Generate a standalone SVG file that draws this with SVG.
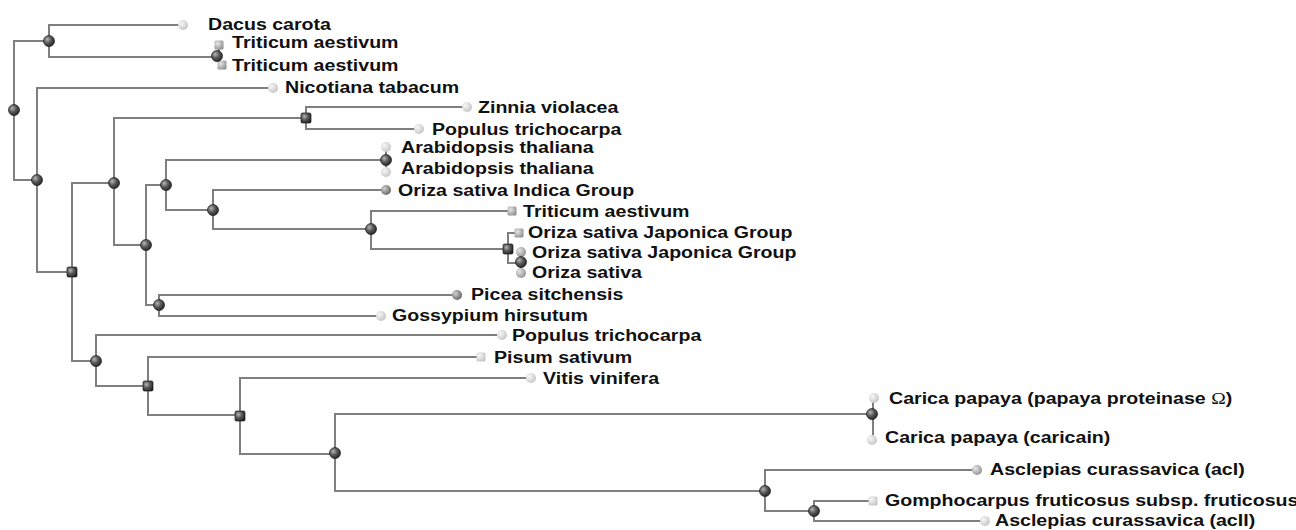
<svg xmlns="http://www.w3.org/2000/svg" xmlns:xlink="http://www.w3.org/1999/xlink" width="1296" height="530" viewBox="0 0 1296 530">
<style>
.bg{fill:#ffffff}
.conn path{fill:none;stroke:#7f7f7f;stroke-width:2;stroke-linecap:square}
.lbl{font-family:"Liberation Sans",Arial,Helvetica,sans-serif;font-weight:bold;font-size:17px;fill:#111111}
.om{font-family:"Liberation Serif","Times New Roman",serif;font-weight:normal}
</style>
<defs>
<radialGradient id="gDark" cx="0.35" cy="0.35" r="0.75">
<stop offset="0" stop-color="#b5b5b5"/><stop offset="0.45" stop-color="#5a5a5a"/><stop offset="1" stop-color="#1e1e1e"/>
</radialGradient>
<radialGradient id="gMid" cx="0.35" cy="0.35" r="0.75">
<stop offset="0" stop-color="#e6e6e6"/><stop offset="1" stop-color="#8c8c8c"/>
</radialGradient>
<radialGradient id="gMdk" cx="0.35" cy="0.35" r="0.75">
<stop offset="0" stop-color="#cfcfcf"/><stop offset="1" stop-color="#5e5e5e"/>
</radialGradient>
<radialGradient id="gLight" cx="0.35" cy="0.35" r="0.75">
<stop offset="0" stop-color="#f7f7f7"/><stop offset="1" stop-color="#c2c2c2"/>
</radialGradient>
<g id="nd"><circle r="5.5" fill="url(#gDark)" stroke="#1a1a1a" stroke-width="0.7"/></g>
<g id="ns"><rect x="-5" y="-5" width="10" height="10" rx="1.5" fill="url(#gDark)" stroke="#1a1a1a" stroke-width="0.7"/></g>
<g id="ll"><circle r="5" fill="url(#gLight)"/></g>
<g id="lm"><circle r="5" fill="url(#gMid)"/></g>
<g id="ld"><circle r="5" fill="url(#gMdk)"/></g>
<g id="sl"><rect x="-4.5" y="-4.5" width="9" height="9" rx="1.5" fill="url(#gLight)"/></g>
<g id="sm"><rect x="-4.5" y="-4.5" width="9" height="9" rx="1.5" fill="url(#gMid)"/></g>
</defs>
<rect class="bg" x="0" y="0" width="1296" height="530"/>
<g id="connectors" class="conn">
<path d="M14,41 V180 M14,41 H49 M14,180 H37"/>
<path d="M49,25 V57 M49,25 H183 M49,57 H217"/>
<path d="M219,45 V65"/>
<path d="M37,88 V272 M37,88 H273 M37,272 H72"/>
<path d="M72,183 V361 M72,183 H114 M72,361 H96"/>
<path d="M114,118 V245 M114,118 H306 M114,245 H146"/>
<path d="M306,107 V129 M306,107 H467 M306,129 H419"/>
<path d="M146,185 V305 M146,185 H166 M146,305 H159"/>
<path d="M166,160 V210 M166,160 H386 M166,210 H213"/>
<path d="M386,147 V172"/>
<path d="M213,190 V229 M213,190 H386 M213,229 H371"/>
<path d="M371,211 V249 M371,211 H512 M371,249 H508"/>
<path d="M508,233 V263 M508,233 H519 M508,263 H521"/>
<path d="M521,252 V273"/>
<path d="M159,295 V316 M159,295 H457 M159,316 H381"/>
<path d="M96,335 V386 M96,335 H502 M96,386 H148"/>
<path d="M148,357 V415 M148,357 H481 M148,415 H240"/>
<path d="M240,378 V454 M240,378 H531 M240,454 H335"/>
<path d="M335,414 V491 M335,414 H872 M335,491 H765"/>
<path d="M873,398 V440"/>
<path d="M765,470 V511 M765,470 H977 M765,511 H814"/>
<path d="M814,501 V521 M814,501 H873 M814,521 H985"/>
</g>
<g id="n-root"><use xlink:href="#nd" x="14" y="110"/></g>
<g id="n-a"><use xlink:href="#nd" x="49" y="41"/></g>
<g id="n-b"><use xlink:href="#nd" x="37" y="180"/></g>
<g id="n-c"><use xlink:href="#ns" x="72" y="272"/></g>
<g id="n-d"><use xlink:href="#nd" x="114" y="183"/></g>
<g id="n-e"><use xlink:href="#ns" x="306" y="118"/></g>
<g id="n-f"><use xlink:href="#nd" x="146" y="245"/></g>
<g id="n-g"><use xlink:href="#nd" x="166" y="185"/></g>
<g id="n-h"><use xlink:href="#nd" x="213" y="210"/></g>
<g id="n-i"><use xlink:href="#nd" x="371" y="229"/></g>
<g id="n-j"><use xlink:href="#ns" x="508" y="249"/></g>
<g id="n-k"><use xlink:href="#nd" x="159" y="305"/></g>
<g id="n-m"><use xlink:href="#nd" x="96" y="361"/></g>
<g id="n-n"><use xlink:href="#ns" x="148" y="386"/></g>
<g id="n-o"><use xlink:href="#ns" x="240" y="416"/></g>
<g id="n-p"><use xlink:href="#nd" x="335" y="453"/></g>
<g id="n-s"><use xlink:href="#nd" x="765" y="491"/></g>
<g id="n-u"><use xlink:href="#nd" x="814" y="511"/></g>

<g id="leaf-dacus"><use xlink:href="#ll" x="183" y="25"/><text class="lbl" transform="translate(208,30) scale(1.153,1)">Dacus carota</text></g>
<g id="n-tri"><use xlink:href="#sm" x="219" y="45"/><use xlink:href="#sm" x="222" y="65"/><use xlink:href="#nd" x="217" y="56"/>
<text class="lbl" transform="translate(232,48) scale(1.153,1)">Triticum aestivum</text>
<text class="lbl" transform="translate(232,71) scale(1.153,1)">Triticum aestivum</text></g>
<g id="leaf-nicotiana"><use xlink:href="#ll" x="273" y="88"/><text class="lbl" transform="translate(285,93) scale(1.153,1)">Nicotiana tabacum</text></g>
<g id="leaf-zinnia"><use xlink:href="#ll" x="467" y="107"/><text class="lbl" transform="translate(478,113) scale(1.153,1)">Zinnia violacea</text></g>
<g id="leaf-populus1"><use xlink:href="#ll" x="419" y="129"/><text class="lbl" transform="translate(432,135) scale(1.153,1)">Populus trichocarpa</text></g>
<g id="n-arab"><use xlink:href="#ll" x="386" y="147"/><use xlink:href="#ll" x="386" y="172"/><use xlink:href="#nd" x="386" y="160"/>
<text class="lbl" transform="translate(401,153) scale(1.153,1)">Arabidopsis thaliana</text>
<text class="lbl" transform="translate(401,174) scale(1.153,1)">Arabidopsis thaliana</text></g>
<g id="leaf-oriza-indica"><use xlink:href="#ld" x="386" y="190"/><text class="lbl" transform="translate(398,196) scale(1.153,1)">Oriza sativa Indica Group</text></g>
<g id="leaf-triticum3"><use xlink:href="#sm" x="512" y="211"/><text class="lbl" transform="translate(523,217) scale(1.153,1)">Triticum aestivum</text></g>
<g id="leaf-oriza-jap1"><use xlink:href="#sm" x="519" y="233"/><text class="lbl" transform="translate(528,238) scale(1.153,1)">Oriza sativa Japonica Group</text></g>
<g id="n-j2"><use xlink:href="#lm" x="521" y="252"/><use xlink:href="#lm" x="521" y="273"/><use xlink:href="#nd" x="521" y="262"/>
<text class="lbl" transform="translate(532,258) scale(1.153,1)">Oriza sativa Japonica Group</text>
<text class="lbl" transform="translate(532,278) scale(1.153,1)">Oriza sativa</text></g>
<g id="leaf-picea"><use xlink:href="#ld" x="457" y="295"/><text class="lbl" transform="translate(471,300) scale(1.153,1)">Picea sitchensis</text></g>
<g id="leaf-gossypium"><use xlink:href="#ll" x="381" y="316"/><text class="lbl" transform="translate(392,321) scale(1.153,1)">Gossypium hirsutum</text></g>
<g id="leaf-populus2"><use xlink:href="#ll" x="502" y="335"/><text class="lbl" transform="translate(512,341) scale(1.153,1)">Populus trichocarpa</text></g>
<g id="leaf-pisum"><use xlink:href="#sl" x="481" y="357"/><text class="lbl" transform="translate(494,363) scale(1.153,1)">Pisum sativum</text></g>
<g id="leaf-vitis"><use xlink:href="#ll" x="531" y="378"/><text class="lbl" transform="translate(543,384) scale(1.153,1)">Vitis vinifera</text></g>
<g id="n-carica"><use xlink:href="#ll" x="874" y="398"/><use xlink:href="#ll" x="872" y="440"/><use xlink:href="#nd" x="872" y="414"/>
<text class="lbl" transform="translate(889,404) scale(1.153,1)">Carica papaya (papaya proteinase <tspan class="om">Ω</tspan>)</text>
<text class="lbl" transform="translate(885,443) scale(1.153,1)">Carica papaya (caricain)</text></g>
<g id="leaf-asclepias1"><use xlink:href="#lm" x="977" y="470"/><text class="lbl" transform="translate(990,475) scale(1.153,1)">Asclepias curassavica (acI)</text></g>
<g id="leaf-gomphocarpus"><use xlink:href="#sl" x="873" y="501"/><text class="lbl" transform="translate(885,506) scale(1.153,1)">Gomphocarpus fruticosus subsp. fruticosus</text></g>
<g id="leaf-asclepias2"><use xlink:href="#ll" x="985" y="521"/><text class="lbl" transform="translate(995,526) scale(1.153,1)">Asclepias curassavica (acII)</text></g>
</svg>
